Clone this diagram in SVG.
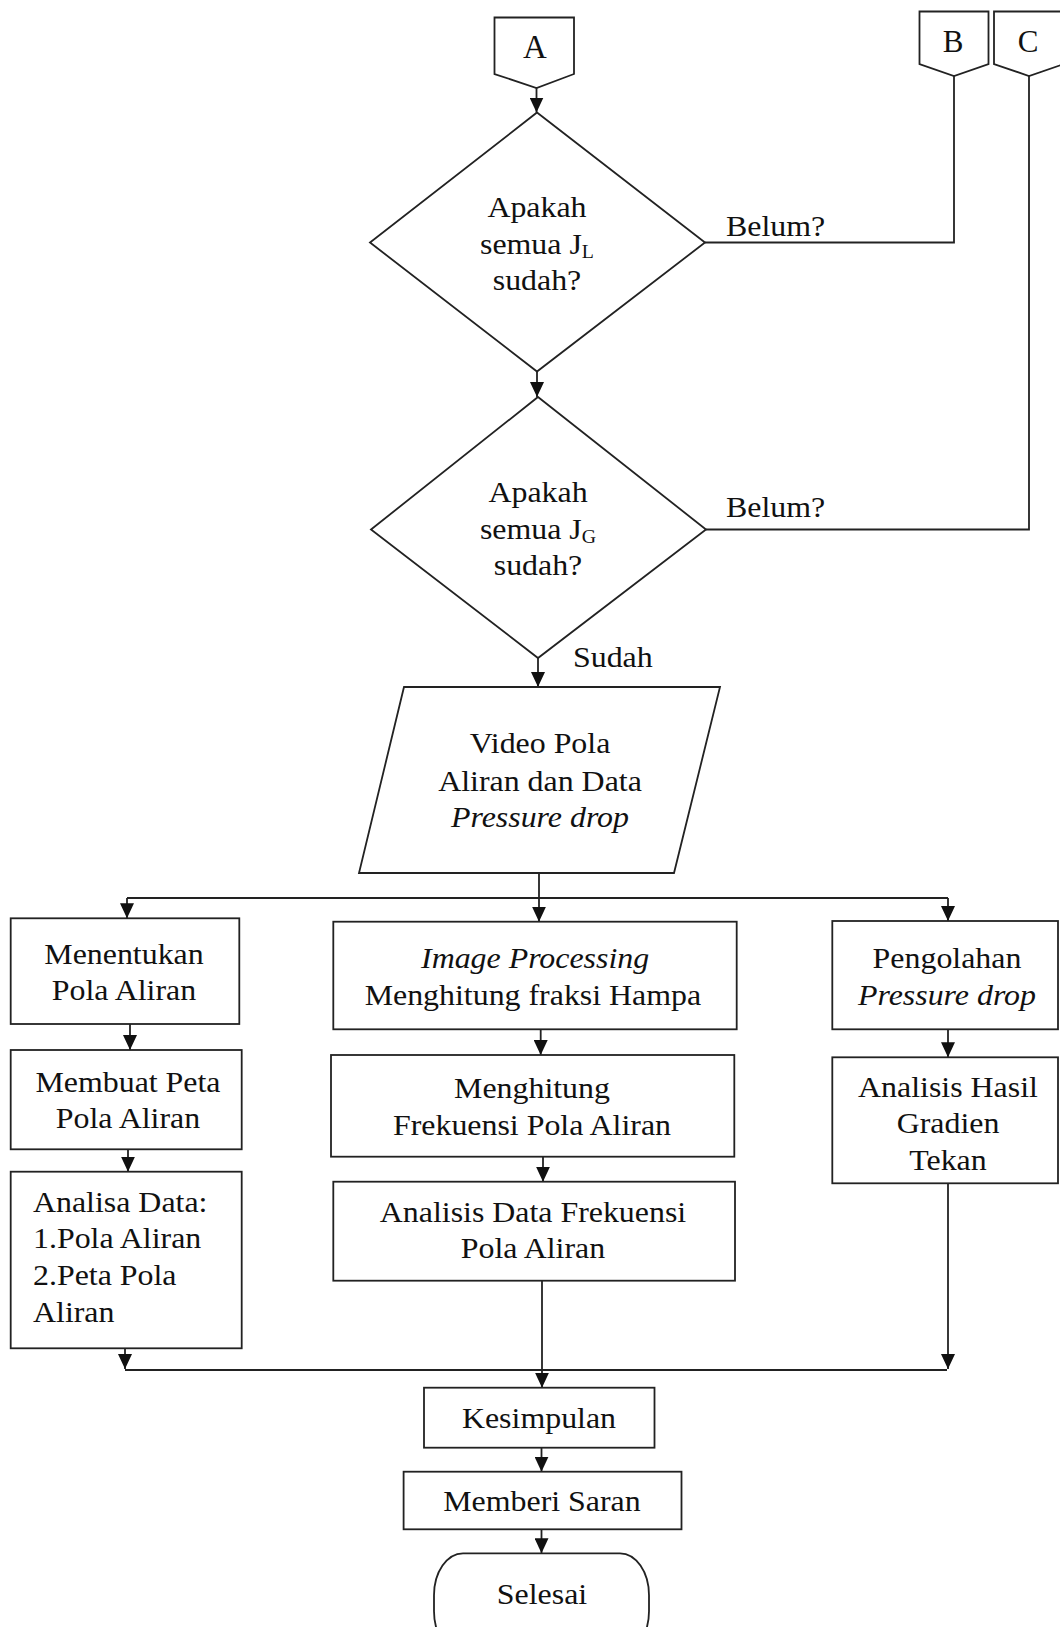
<svg xmlns="http://www.w3.org/2000/svg" width="1060" height="1627" viewBox="0 0 1060 1627">
<style>
.s{fill:#fff;stroke:#222;stroke-width:1.8}
.c{fill:none;stroke:#222;stroke-width:1.8}
.t{font-family:"Liberation Serif","Times New Roman",serif;font-size:29px;fill:#111;text-anchor:middle}
.l{text-anchor:start}
.i{font-style:italic}
.sub{font-size:18px}
</style>
<defs>
<marker id="arr" viewBox="0 0 15 14" refX="15" refY="7" markerWidth="15" markerHeight="14" markerUnits="userSpaceOnUse" orient="auto">
<path d="M0,0 L15,7 L0,14 z" fill="#111"/>
</marker>
</defs>
<rect width="1060" height="1627" fill="#fff"/>
<g id="connectors">
<path class="c" d="M536.5,88 V112.5" marker-end="url(#arr)"/>
<path class="c" d="M537,371.5 V397" marker-end="url(#arr)"/>
<path class="c" d="M538,658 V687" marker-end="url(#arr)"/>
<path class="c" d="M705,242.5 H954 V76"/>
<path class="c" d="M706,529.5 H1029 V76"/>
<path class="c" d="M539,873 V921.7" marker-end="url(#arr)"/>
<path class="c" d="M127,898 H948"/>
<path class="c" d="M127,898 V918.3" marker-end="url(#arr)"/>
<path class="c" d="M948,898 V921" marker-end="url(#arr)"/>
<path class="c" d="M130,1024 V1050" marker-end="url(#arr)"/>
<path class="c" d="M128,1149.3 V1171.7" marker-end="url(#arr)"/>
<path class="c" d="M125,1348.3 V1369" marker-end="url(#arr)"/>
<path class="c" d="M125,1370 H947"/>
<path class="c" d="M948,1183.3 V1369" marker-end="url(#arr)"/>
<path class="c" d="M540.7,1029.3 V1055" marker-end="url(#arr)"/>
<path class="c" d="M543,1156.7 V1181.7" marker-end="url(#arr)"/>
<path class="c" d="M542,1280.7 V1387.7" marker-end="url(#arr)"/>
<path class="c" d="M541.5,1447.7 V1471.7" marker-end="url(#arr)"/>
<path class="c" d="M541.5,1529.3 V1553.3" marker-end="url(#arr)"/>
<path class="c" d="M948,1029.3 V1057.3" marker-end="url(#arr)"/>
<text class="t l" x="726" y="236" transform="matrix(1.1 0 0 1 -72.6 0)">Belum?</text>
<text class="t l" x="726" y="517" transform="matrix(1.1 0 0 1 -72.6 0)">Belum?</text>
<text class="t l" x="573" y="667" transform="matrix(1.1 0 0 1 -57.3 0)">Sudah</text>
</g>
<g id="conA">
<polygon class="s" points="494.5,17.5 574,17.5 574,74 536.5,88 494.5,74"/>
<text class="t" x="535" y="58" style="font-size:33px">A</text>
</g>
<g id="conB">
<polygon class="s" points="919.5,11.5 988.5,11.5 988.5,64 954,76 919.5,64"/>
<text class="t" x="953" y="52" style="font-size:31px">B</text>
</g>
<g id="conC">
<polygon class="s" points="994,11.5 1064,11.5 1064,64 1029,76 994,64"/>
<text class="t" x="1028" y="52" style="font-size:31px">C</text>
</g>
<g id="dec1">
<polygon class="s" points="537,112.5 705,242.5 537,371.5 370,242.5"/>
<g transform="matrix(1.1 0 0 1 -53.7 0)">
<text class="t" x="537" y="217">Apakah</text>
<text class="t" x="537" y="254">semua J<tspan class="sub" dy="4">L</tspan></text>
<text class="t" x="537" y="290">sudah?</text>
</g>
</g>
<g id="dec2">
<polygon class="s" points="538,397 706,529.5 538,658 371,529.5"/>
<g transform="matrix(1.1 0 0 1 -53.8 0)">
<text class="t" x="538" y="502">Apakah</text>
<text class="t" x="538" y="539">semua J<tspan class="sub" dy="4">G</tspan></text>
<text class="t" x="538" y="575">sudah?</text>
</g>
</g>
<g id="data">
<polygon class="s" points="404,687 720,687 674,873 359,873"/>
<g transform="matrix(1.1 0 0 1 -54 0)">
<text class="t" x="540" y="753">Video Pola</text>
<text class="t" x="540" y="791">Aliran dan Data</text>
<text class="t i" x="540" y="827">Pressure drop</text>
</g>
</g>
<g id="menentukan">
<rect class="s" x="10.7" y="918.3" width="228.6" height="105.7"/>
<g transform="matrix(1.1 0 0 1 -12.4 0)">
<text class="t" x="124" y="964">Menentukan</text>
<text class="t" x="124" y="1000">Pola Aliran</text>
</g>
</g>
<g id="membuat">
<rect class="s" x="10.7" y="1050" width="231" height="99.3"/>
<g transform="matrix(1.1 0 0 1 -12.8 0)">
<text class="t" x="128" y="1092">Membuat Peta</text>
<text class="t" x="128" y="1128">Pola Aliran</text>
</g>
</g>
<g id="analisa">
<rect class="s" x="10.7" y="1171.7" width="231" height="176.6"/>
<g transform="matrix(1.1 0 0 1 -3.3 0)">
<text class="t l" x="33" y="1212">Analisa Data:</text>
<text class="t l" x="33" y="1248">1.Pola Aliran</text>
<text class="t l" x="33" y="1285">2.Peta Pola</text>
<text class="t l" x="33" y="1322">Aliran</text>
</g>
</g>
<g id="imageproc">
<rect class="s" x="333.3" y="921.7" width="403.4" height="107.6"/>
<g transform="matrix(1.1 0 0 1 -53.4 0)">
<text class="t i" x="535" y="968">Image Processing</text>
<text class="t" x="533" y="1005">Menghitung fraksi Hampa</text>
</g>
</g>
<g id="frekuensi">
<rect class="s" x="331" y="1055" width="403.3" height="101.7"/>
<g transform="matrix(1.1 0 0 1 -53.2 0)">
<text class="t" x="532" y="1098">Menghitung</text>
<text class="t" x="532" y="1135">Frekuensi Pola Aliran</text>
</g>
</g>
<g id="analisisfrek">
<rect class="s" x="333.3" y="1181.7" width="401.7" height="99"/>
<g transform="matrix(1.1 0 0 1 -53.3 0)">
<text class="t" x="533" y="1222">Analisis Data Frekuensi</text>
<text class="t" x="533" y="1258">Pola Aliran</text>
</g>
</g>
<g id="pengolahan">
<rect class="s" x="832.3" y="921" width="225.7" height="108.3"/>
<g transform="matrix(1.1 0 0 1 -94.7 0)">
<text class="t" x="947" y="968">Pengolahan</text>
<text class="t i" x="947" y="1005">Pressure drop</text>
</g>
</g>
<g id="gradien">
<rect class="s" x="832.3" y="1057.3" width="225.7" height="126"/>
<g transform="matrix(1.1 0 0 1 -94.8 0)">
<text class="t" x="948" y="1097">Analisis Hasil</text>
<text class="t" x="948" y="1133">Gradien</text>
<text class="t" x="948" y="1170">Tekan</text>
</g>
</g>
<g id="kesimpulan">
<rect class="s" x="424" y="1387.7" width="230.5" height="60"/>
<text class="t" x="539" y="1428" transform="matrix(1.1 0 0 1 -53.9 0)">Kesimpulan</text>
</g>
<g id="saran">
<rect class="s" x="403.6" y="1471.7" width="277.9" height="57.6"/>
<text class="t" x="542" y="1511" transform="matrix(1.1 0 0 1 -54.2 0)">Memberi Saran</text>
</g>
<g id="selesai">
<rect class="s" x="434" y="1553.3" width="215" height="100" rx="29" ry="42"/>
<text class="t" x="542" y="1604" transform="matrix(1.1 0 0 1 -54.2 0)">Selesai</text>
</g>
</svg>
